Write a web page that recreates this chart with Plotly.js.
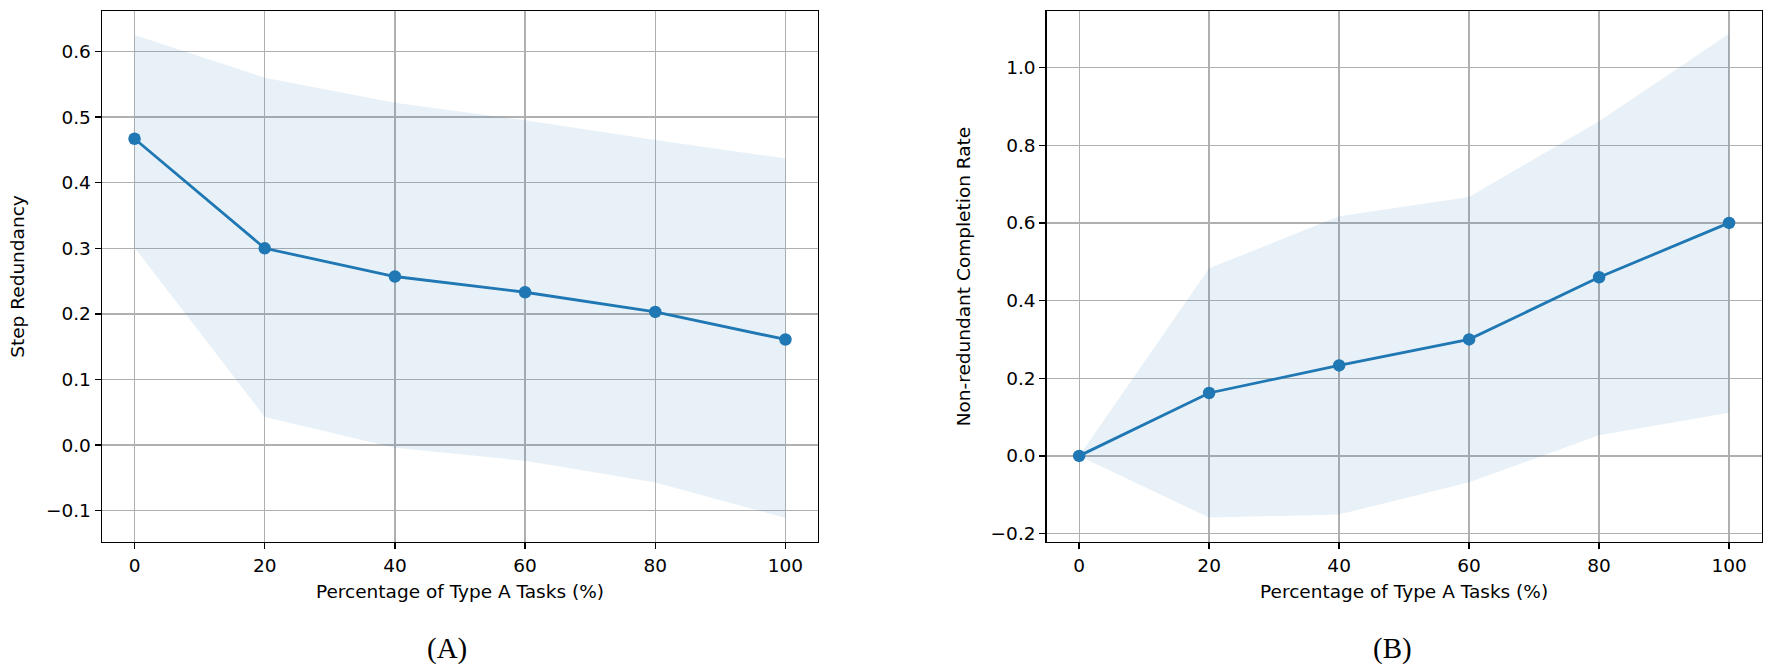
<!DOCTYPE html>
<html>
<head>
<meta charset="utf-8">
<script src="https://cdn.plot.ly/plotly-3.0.1.min.js"></script>
<style>
  html, body { margin: 0; padding: 0; background: #fff; }
  #chart { width: 1774px; height: 667px; }
</style>
</head>
<body>
<div id="chart"></div>
<script>
// share of type A tasks (%)
const pctTypeA = [0, 20, 40, 60, 80, 100];

// (A) step redundancy: mean and band
const redundancyMean = [0.467, 0.300, 0.257, 0.233, 0.203, 0.161];
const redundancyUpper = [0.625, 0.560, 0.522, 0.495, 0.465, 0.437];
const redundancyLower = [0.301, 0.043, -0.004, -0.024, -0.057, -0.111];

// (B) non-redundant completion rate: mean and band
const completionMean = [0.000, 0.162, 0.233, 0.300, 0.460, 0.600];
const completionUpper = [0.000, 0.483, 0.617, 0.667, 0.862, 1.087];
const completionLower = [0.000, -0.159, -0.151, -0.068, 0.053, 0.111];

const xTicks = [0, 20, 40, 60, 80, 100];
const redundancyTicks = [-0.1, 0.0, 0.1, 0.2, 0.3, 0.4, 0.5, 0.6];
const completionTicks = [-0.2, 0.0, 0.2, 0.4, 0.6, 0.8, 1.0];

const blue = '#1f77b4';
const band = 'rgba(31,119,180,0.1)';

function traces(mean, upper, lower, xa, ya) {
  return [
    { x: pctTypeA, y: lower, xaxis: xa, yaxis: ya, mode: 'lines',
      line: { width: 0 }, hoverinfo: 'skip', showlegend: false },
    { x: pctTypeA, y: upper, xaxis: xa, yaxis: ya, mode: 'lines',
      line: { width: 0 }, fill: 'tonexty', fillcolor: band,
      hoverinfo: 'skip', showlegend: false },
    { x: pctTypeA, y: mean, xaxis: xa, yaxis: ya, mode: 'lines+markers',
      line: { color: blue, width: 2.8 }, marker: { color: blue, size: 12.5 },
      showlegend: false }
  ];
}

const data = [
  ...traces(redundancyMean, redundancyUpper, redundancyLower, 'x', 'y'),
  ...traces(completionMean, completionUpper, completionLower, 'x2', 'y2')
];

const font = { family: 'DejaVu Sans', size: 18.5, color: '#000' };
const labelFont = { family: 'Liberation Serif', size: 29, color: '#000' };

const axisBase = {
  showline: true, mirror: true, linecolor: '#000', linewidth: 1.4,
  ticks: 'outside', ticklen: 6, tickwidth: 1.4, tickcolor: '#000',
  showgrid: true, gridcolor: '#b0b0b0', gridwidth: 1.3,
  zeroline: false, tickfont: font
};

const xTitle = { text: 'Percentage of Type A Tasks (%)', font: font, standoff: 10 };

const layout = {
  width: 1774, height: 667,
  margin: { l: 0, r: 0, t: 0, b: 0 },
  paper_bgcolor: '#fff', plot_bgcolor: '#fff',
  font: font,
  xaxis: Object.assign({}, axisBase, {
    domain: [0.0575, 0.4611], range: [-5, 105], tickvals: xTicks, title: xTitle
  }),
  yaxis: Object.assign({}, axisBase, {
    domain: [0.1874, 0.9835], range: [-0.1477, 0.6617],
    tickvals: redundancyTicks, tickformat: '.1f',
    title: { text: 'Step Redundancy', font: font, standoff: 16 }
  }),
  xaxis2: Object.assign({}, axisBase, {
    domain: [0.590, 0.993], range: [-5, 105], tickvals: xTicks,
    anchor: 'y2', title: xTitle
  }),
  yaxis2: Object.assign({}, axisBase, {
    domain: [0.1874, 0.9835], range: [-0.2218, 1.1457],
    tickvals: completionTicks, tickformat: '.1f', anchor: 'x2',
    title: { text: 'Non-redundant Completion Rate', font: font, standoff: 15 }
  }),
  annotations: [
    { text: '(A)', xref: 'paper', yref: 'paper', x: 447 / 1774, y: 1 - 648 / 667,
      xanchor: 'center', yanchor: 'middle', showarrow: false, font: labelFont },
    { text: '(B)', xref: 'paper', yref: 'paper', x: 1392 / 1774, y: 1 - 648 / 667,
      xanchor: 'center', yanchor: 'middle', showarrow: false, font: labelFont }
  ]
};

Plotly.newPlot('chart', data, layout, { staticPlot: true, displayModeBar: false });
</script>
</body>
</html>
